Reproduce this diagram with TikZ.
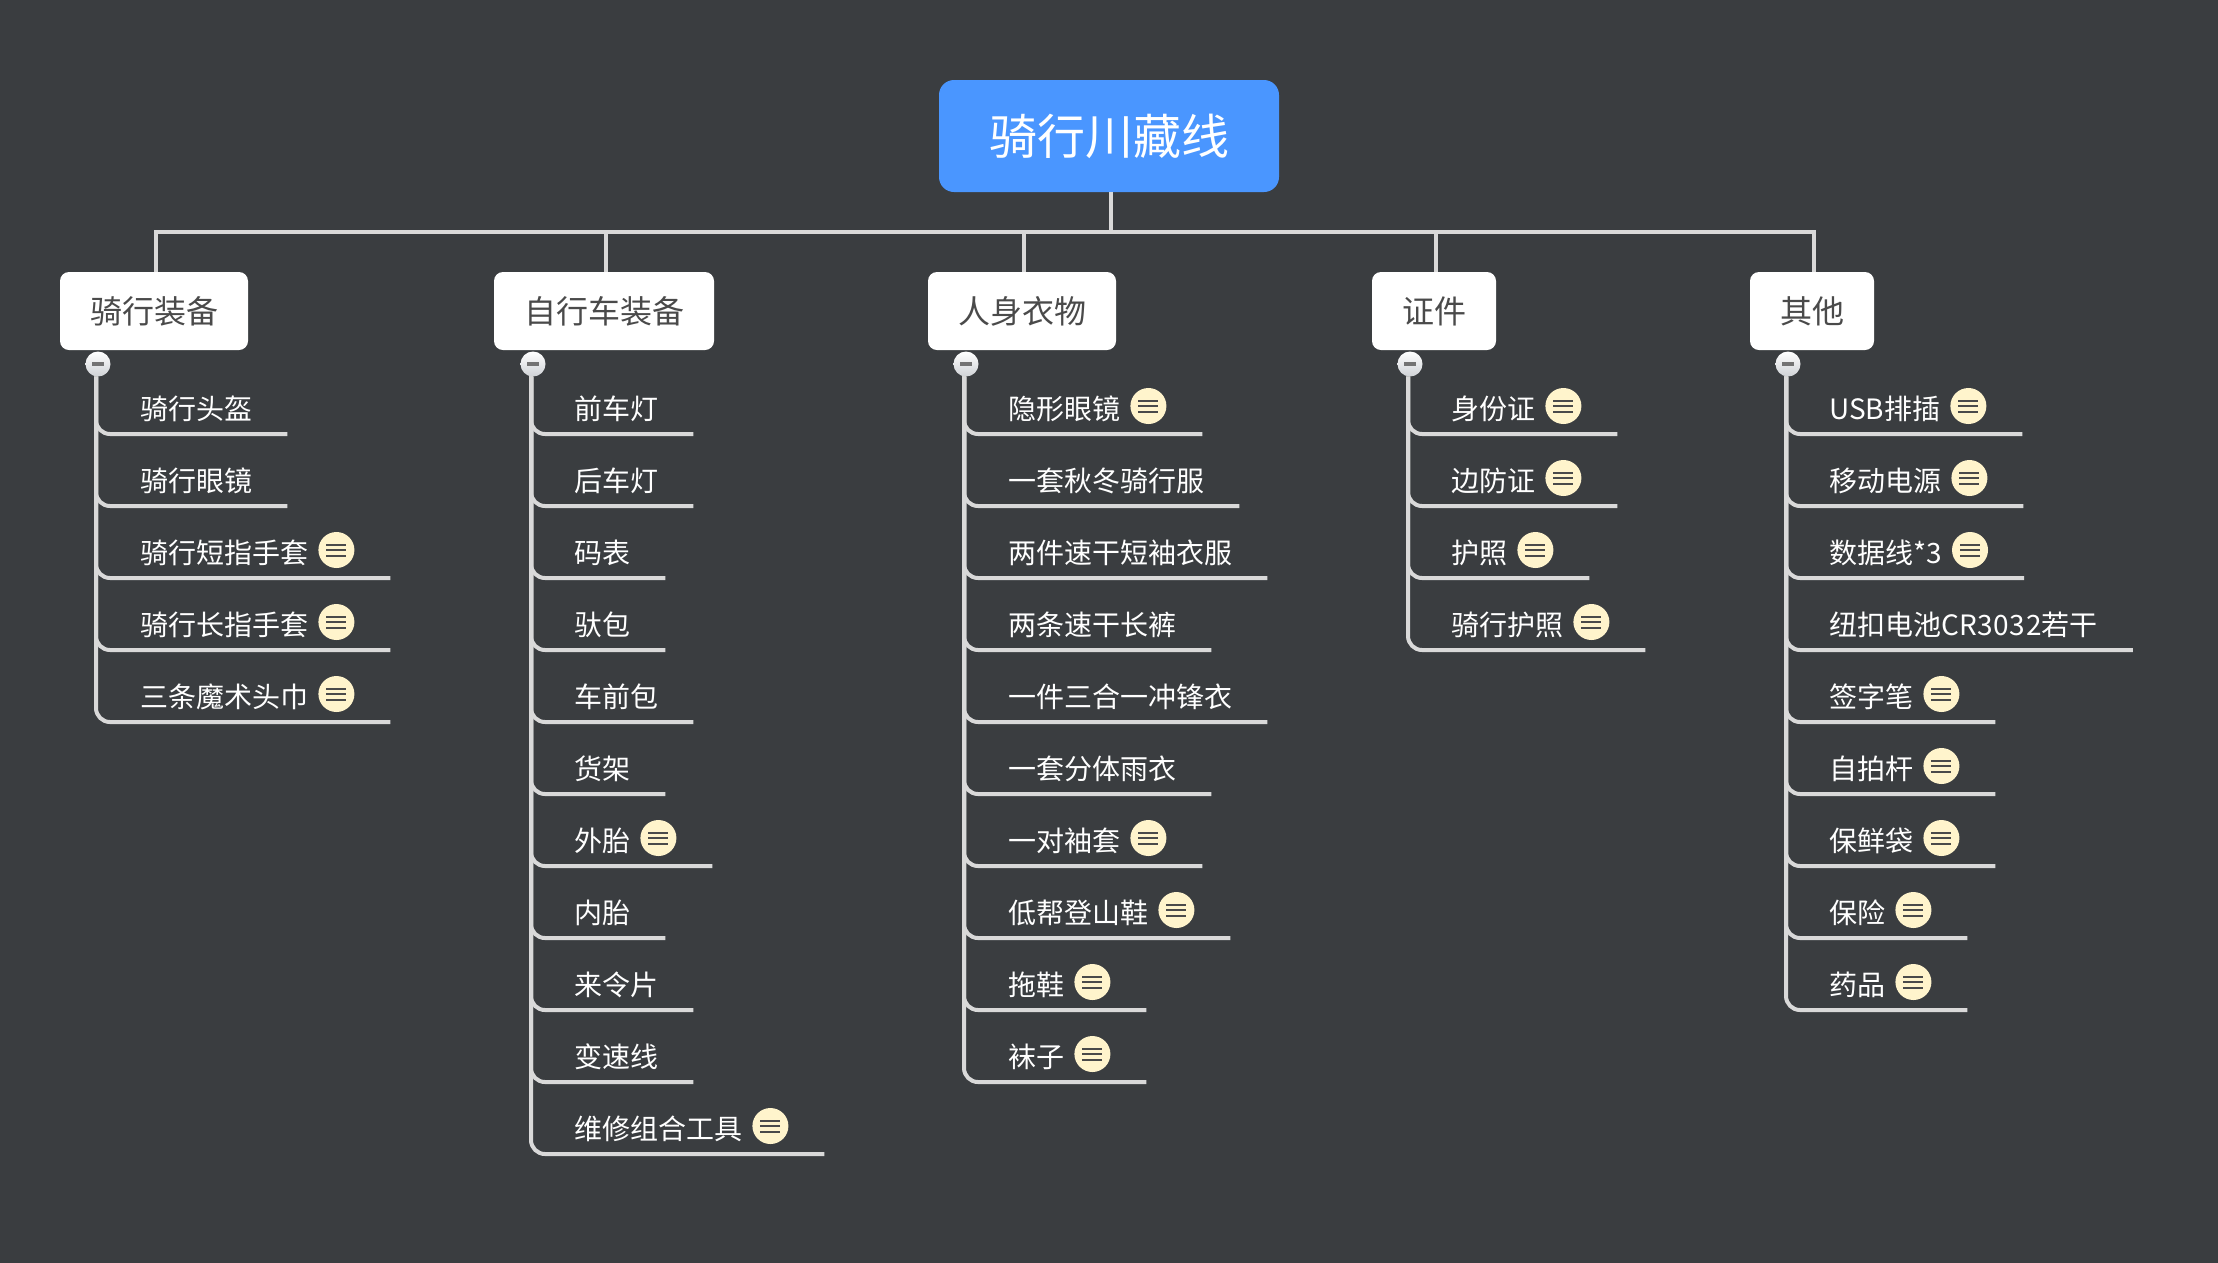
\documentclass[tikz,border=0pt]{standalone}
\usepackage{fontspec}
\setmainfont{Noto Sans CJK SC}
\usetikzlibrary{calc}
\definecolor{backcol}{HTML}{3A3D40}
\definecolor{rootcol}{HTML}{4A96FF}
\definecolor{linecol}{HTML}{D9D9D9}
\definecolor{notecol}{HTML}{FFF4CC}
\definecolor{inkcol}{HTML}{4A4A4A}
\definecolor{minuscol}{HTML}{CFD2D6}
\tikzset{
	root/.style={fill=rootcol, text=white, rounded corners=15pt, minimum width=340pt, minimum height=112pt, inner sep=0pt, font=\fontsize{48}{56}\selectfont},
	topic/.style={fill=white, text=inkcol, rounded corners=9pt, minimum height=78pt, inner sep=0pt, font=\fontsize{32}{38}\selectfont},
	leaf/.style={anchor=base west, text=white, inner sep=0pt, font=\fontsize{28}{34}\selectfont},
	link/.style={line width=4pt, color=linecol},
	twig/.style={line width=4pt, color=linecol, rounded corners=14pt},
	note/.style={circle, fill=notecol, minimum size=36pt, inner sep=0pt, path picture={
		\draw[line width=2pt, color=inkcol] ($(path picture bounding box.center)+(-10,-5.5)$) -- ++(20,0);
		\draw[line width=2pt, color=inkcol] ($(path picture bounding box.center)+(-10,0)$) -- ++(20,0);
		\draw[line width=2pt, color=inkcol] ($(path picture bounding box.center)+(-10,5.5)$) -- ++(20,0);}},
	minus/.style={circle, top color=white, bottom color=minuscol, minimum size=25pt, inner sep=0pt, path picture={
		\draw[line width=3.5pt, color=black!55] ($(path picture bounding box.center)+(-6,0)$) -- ++(12,0);}},
}
\def\leaf(#1)(#2:#3)#4{\node[leaf] (#1) at (#2,{#3-15}) {#4};
	\coordinate (#1end) at ($(#1.base east)+(35,15)$);}
\def\noted(#1)(#2:#3)#4{\node[leaf] (#1) at (#2,{#3-15}) {#4};
	\node[note] (#1note) at ($(#1.base east)+(28,-13)$) {};
	\coordinate (#1end) at ($(#1note.center)+(54,28)$);}

\begin{document}
\begin{tikzpicture}[x=1pt, y=-1pt]
		\useasboundingbox (0, 0) rectangle (2218, 1262);
		\fill[backcol] (-5, -5) rectangle (2223, 1267);

		%%%%% TOPICS %%%%%
		\node[root] (root) at (1109, 136) {骑行川藏线};
		\node[topic, minimum width=188pt] (a) at (154, 311) {骑行装备};
		\node[topic, minimum width=220pt] (b) at (604, 311) {自行车装备};
		\node[topic, minimum width=188pt] (c) at (1022, 311) {人身衣物};
		\node[topic, minimum width=124pt] (d) at (1434, 311) {证件};
		\node[topic, minimum width=124pt] (e) at (1812, 311) {其他};

		\coordinate (bus) at (1111, 232);
		\coordinate (atop) at (156, 272);
		\coordinate (btop) at (606, 272);
		\coordinate (ctop) at (1024, 272);
		\coordinate (dtop) at (1436, 272);
		\coordinate (etop) at (1813.5, 272);

		\draw[link] (root.south -| bus) -- (bus);
		\draw[link] (atop) |- (etop |- bus) -- (etop);
		\draw[link] (btop) -- (btop |- bus);
		\draw[link] (ctop) -- (ctop |- bus);
		\draw[link] (dtop) -- (dtop |- bus);

		\node[minus] (aminus) at (98, 364) {};
		\node[minus] (bminus) at (533, 364) {};
		\node[minus] (cminus) at (966, 364) {};
		\node[minus] (dminus) at (1410, 364) {};
		\node[minus] (eminus) at (1788, 364) {};

		%%%%% RIDING GEAR %%%%%
		\leaf(a1)(140:434){骑行头盔}
		\leaf(a2)(140:506){骑行眼镜}
		\noted(a3)(140:578){骑行短指手套}
		\noted(a4)(140:650){骑行长指手套}
		\noted(a5)(140:722){三条魔术头巾}
		\draw[twig] ([xshift=-2pt]aminus.south) |- (a1end);
		\draw[twig] ([xshift=-2pt]aminus.south) |- (a2end);
		\draw[twig] ([xshift=-2pt]aminus.south) |- (a3end);
		\draw[twig] ([xshift=-2pt]aminus.south) |- (a4end);
		\draw[twig] ([xshift=-2pt]aminus.south) |- (a5end);

		%%%%% BICYCLE GEAR %%%%%
		\leaf(b1)(574:434){前车灯}
		\leaf(b2)(574:506){后车灯}
		\leaf(b3)(574:578){码表}
		\leaf(b4)(574:650){驮包}
		\leaf(b5)(574:722){车前包}
		\leaf(b6)(574:794){货架}
		\noted(b7)(574:866){外胎}
		\leaf(b8)(574:938){内胎}
		\leaf(b9)(574:1010){来令片}
		\leaf(b10)(574:1082){变速线}
		\noted(b11)(574:1154){维修组合工具}
		\draw[twig] ([xshift=-2pt]bminus.south) |- (b1end);
		\draw[twig] ([xshift=-2pt]bminus.south) |- (b2end);
		\draw[twig] ([xshift=-2pt]bminus.south) |- (b3end);
		\draw[twig] ([xshift=-2pt]bminus.south) |- (b4end);
		\draw[twig] ([xshift=-2pt]bminus.south) |- (b5end);
		\draw[twig] ([xshift=-2pt]bminus.south) |- (b6end);
		\draw[twig] ([xshift=-2pt]bminus.south) |- (b7end);
		\draw[twig] ([xshift=-2pt]bminus.south) |- (b8end);
		\draw[twig] ([xshift=-2pt]bminus.south) |- (b9end);
		\draw[twig] ([xshift=-2pt]bminus.south) |- (b10end);
		\draw[twig] ([xshift=-2pt]bminus.south) |- (b11end);

		%%%%% CLOTHES %%%%%
		\noted(c1)(1008:434){隐形眼镜}
		\leaf(c2)(1008:506){一套秋冬骑行服}
		\leaf(c3)(1008:578){两件速干短袖衣服}
		\leaf(c4)(1008:650){两条速干长裤}
		\leaf(c5)(1008:722){一件三合一冲锋衣}
		\leaf(c6)(1008:794){一套分体雨衣}
		\noted(c7)(1008:866){一对袖套}
		\noted(c8)(1008:938){低帮登山鞋}
		\noted(c9)(1008:1010){拖鞋}
		\noted(c10)(1008:1082){袜子}
		\draw[twig] ([xshift=-2pt]cminus.south) |- (c1end);
		\draw[twig] ([xshift=-2pt]cminus.south) |- (c2end);
		\draw[twig] ([xshift=-2pt]cminus.south) |- (c3end);
		\draw[twig] ([xshift=-2pt]cminus.south) |- (c4end);
		\draw[twig] ([xshift=-2pt]cminus.south) |- (c5end);
		\draw[twig] ([xshift=-2pt]cminus.south) |- (c6end);
		\draw[twig] ([xshift=-2pt]cminus.south) |- (c7end);
		\draw[twig] ([xshift=-2pt]cminus.south) |- (c8end);
		\draw[twig] ([xshift=-2pt]cminus.south) |- (c9end);
		\draw[twig] ([xshift=-2pt]cminus.south) |- (c10end);

		%%%%% PAPERS %%%%%
		\noted(d1)(1451:434){身份证}
		\noted(d2)(1451:506){边防证}
		\noted(d3)(1451:578){护照}
		\noted(d4)(1451:650){骑行护照}
		\draw[twig] ([xshift=-2pt]dminus.south) |- (d1end);
		\draw[twig] ([xshift=-2pt]dminus.south) |- (d2end);
		\draw[twig] ([xshift=-2pt]dminus.south) |- (d3end);
		\draw[twig] ([xshift=-2pt]dminus.south) |- (d4end);

		%%%%% OTHER %%%%%
		\noted(e1)(1829:434){USB排插}
		\noted(e2)(1829:506){移动电源}
		\noted(e3)(1829:578){数据线*3}
		\leaf(e4)(1829:650){纽扣电池{\addfontfeature{LetterSpace=1.8}CR3032}若干}
		\noted(e5)(1829:722){签字笔}
		\noted(e6)(1829:794){自拍杆}
		\noted(e7)(1829:866){保鲜袋}
		\noted(e8)(1829:938){保险}
		\noted(e9)(1829:1010){药品}
		\draw[twig] ([xshift=-2pt]eminus.south) |- (e1end);
		\draw[twig] ([xshift=-2pt]eminus.south) |- (e2end);
		\draw[twig] ([xshift=-2pt]eminus.south) |- (e3end);
		\draw[twig] ([xshift=-2pt]eminus.south) |- (e4end);
		\draw[twig] ([xshift=-2pt]eminus.south) |- (e5end);
		\draw[twig] ([xshift=-2pt]eminus.south) |- (e6end);
		\draw[twig] ([xshift=-2pt]eminus.south) |- (e7end);
		\draw[twig] ([xshift=-2pt]eminus.south) |- (e8end);
		\draw[twig] ([xshift=-2pt]eminus.south) |- (e9end);
	\end{tikzpicture}
\end{document}
